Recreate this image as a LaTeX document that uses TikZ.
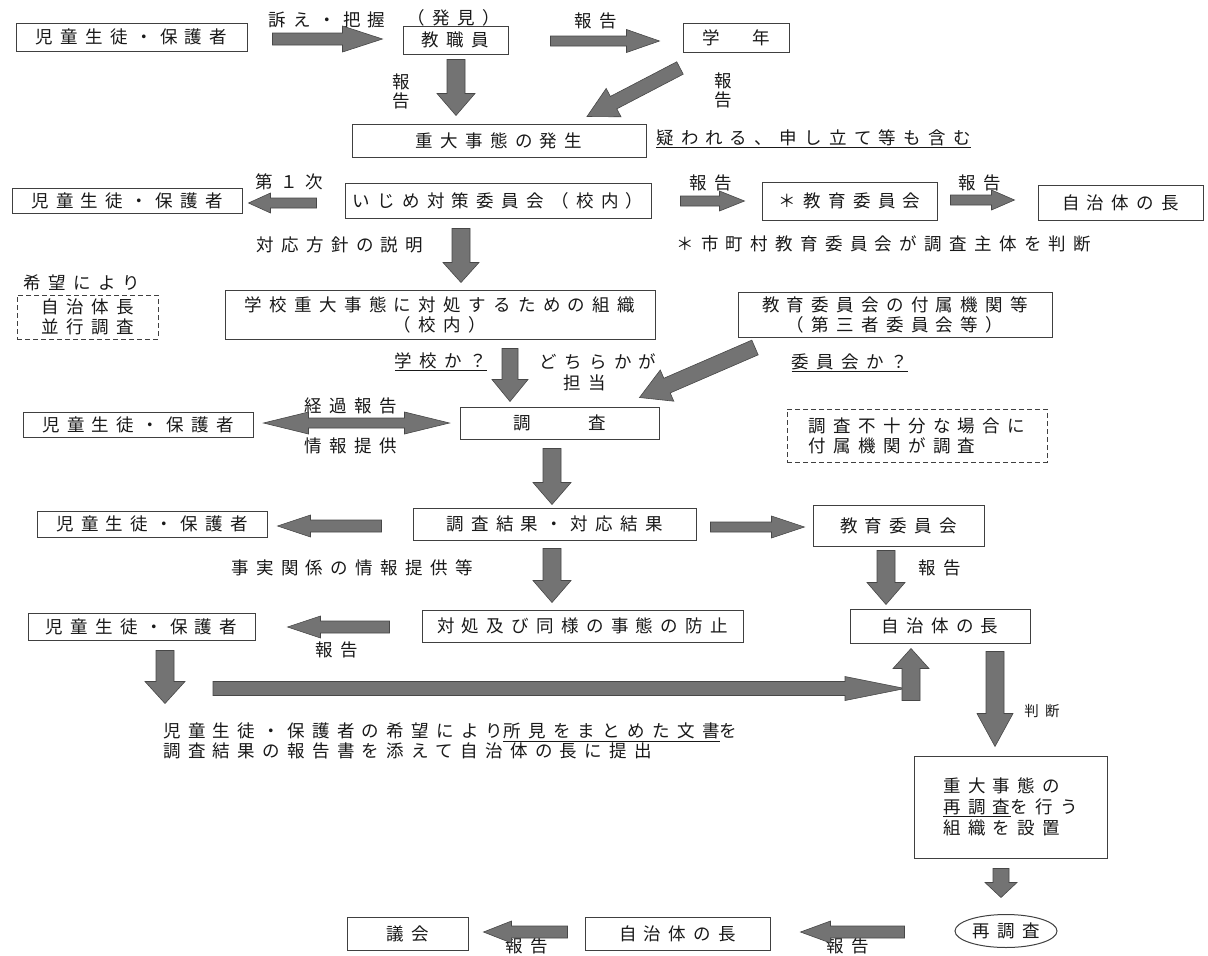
\documentclass[tikz,border=0pt]{standalone}
\usepackage{fontspec}
\setmainfont{Noto Sans CJK JP}[LetterSpace=42]
\usetikzlibrary{calc,shapes.geometric}
\newcommand{\blkarrow}[5]{%
  \coordinate (bS) at (#1);
  \coordinate (bE) at (#2);
  \coordinate (bC) at ($(bE)!#5!(bS)$);
  \filldraw[arw] ($(bS)!#3!90:(bE)$) -- ($(bC)!#3!90:(bE)$) -- ($(bC)!#4!90:(bE)$) -- (bE)
    -- ($(bC)!#4!-90:(bE)$) -- ($(bC)!#3!-90:(bE)$) -- ($(bS)!#3!-90:(bE)$) -- cycle;}
\newcommand{\dblarrow}[5]{%
  \coordinate (bS) at (#1);
  \coordinate (bE) at (#2);
  \coordinate (bC) at ($(bE)!#5!(bS)$);
  \coordinate (bD) at ($(bS)!#5!(bE)$);
  \filldraw[arw] (bS) -- ($(bD)!#4!90:(bE)$) -- ($(bD)!#3!90:(bE)$) -- ($(bC)!#3!90:(bE)$) -- ($(bC)!#4!90:(bE)$) -- (bE)
    -- ($(bC)!#4!-90:(bE)$) -- ($(bC)!#3!-90:(bE)$) -- ($(bD)!#3!-90:(bE)$) -- ($(bD)!#4!-90:(bE)$) -- cycle;}
\begin{document}
\begin{tikzpicture}[x=1pt,y=-1pt,
  every node/.style={font=\fontsize{17.5}{21}\selectfont, inner sep=0pt, text=black!90},
  bx/.style={draw=black!75, line width=1pt, align=center},
  dbx/.style={draw=black!75, line width=0.9pt, dash pattern=on 5pt off 3pt, align=center},
  arw/.style={fill=black!55, draw=black!72, line width=0.6pt},
  lbl/.style={align=center, font=\fontsize{17.5}{19}\selectfont}]
\useasboundingbox (0,0) rectangle (1208,956);
\fill[white] (0,0) rectangle (1208,956);
% row 1
\node[bx, minimum width=231, minimum height=28] (b1) at (131.5,37) {児童生徒・保護者};
\node[bx, minimum width=105, minimum height=28] (kyo) at (455.5,40) {教職員};
\node[bx, minimum width=106, minimum height=29] (gak) at (736,37.5) {学　年};
\node (uttae) at (327,20) {訴え・把握};
\node (hakken) at (454,18) {（発見）};
\node (hok1) at (596,21) {報告};
\node[lbl] (hok2) at (401,91) {報\\告};
\node[lbl] (hok3) at (723,90) {報\\告};
\node[bx, minimum width=294, minimum height=33] (jyu) at (499,140.5) {重大事態の発生};
\node[anchor=west] (utag) at (656,139) {\underline{疑われる、申し立て等も含む}};
% row 3
\node[bx, minimum width=230, minimum height=25] (b2) at (127,200.5) {児童生徒・保護者};
\node[bx, minimum width=306, minimum height=35] (ijime) at (498,200.5) {いじめ対策委員会（校内）};
\node[bx, minimum width=175, minimum height=38] (kyoi1) at (849.5,201) {＊教育委員会};
\node[bx, minimum width=165, minimum height=35] (jichi1) at (1120.5,202.5) {自治体の長};
\node (dai1) at (289,182) {第１次};
\node (hok4) at (711,183) {報告};
\node (hok5) at (980,183) {報告};
\node[anchor=west] (shicho) at (676,244) {＊市町村教育委員会が調査主体を判断};
\node (taiou) at (340,245) {対応方針の説明};
% row 4
\node[dbx, minimum width=141, minimum height=44, font=\fontsize{17.5}{20}\selectfont] (heiko) at (87.5,317) {自治体長\\並行調査};
\node (kibou) at (82,283) {希望により};
\node[bx, minimum width=430, minimum height=49, font=\fontsize{17.5}{20}\selectfont] (soshiki) at (440,314.5) {学校重大事態に対処するための組織\\（校内）};
\node[bx, minimum width=314, minimum height=45, font=\fontsize{17.5}{20}\selectfont] (fuzoku) at (895,314.5) {教育委員会の付属機関等\\（第三者委員会等）};
\node (gakko) at (441,362) {\underline{学校か？}};
\node (dochira) at (598,362) {どちらかが};
\node (tanto) at (585,383) {担当};
\node (iinkai) at (850,363) {\underline{委員会か？}};
% row 5
\node[bx, minimum width=230, minimum height=25] (b3) at (138,424.5) {児童生徒・保護者};
\node (keika) at (351,406) {経過報告};
\node (joho) at (351,446) {情報提供};
\node[bx, minimum width=199, minimum height=32] (chosa) at (559.5,423) {調　　査};
\node[dbx, minimum width=260, minimum height=53, align=left, font=\fontsize{17.5}{20}\selectfont] (fujubun) at (917,435.5) {調査不十分な場合に\\付属機関が調査};
% row 6
\node[bx, minimum width=283, minimum height=32] (kekka) at (554.5,524) {調査結果・対応結果};
\node[bx, minimum width=230, minimum height=26] (b4) at (152,524) {児童生徒・保護者};
\node[bx, minimum width=171, minimum height=41] (kyoi2) at (898.5,525.5) {教育委員会};
\node (jijitsu) at (352,568) {事実関係の情報提供等};
\node (hok6) at (940,568) {報告};
% row 7
\node[bx, minimum width=321, minimum height=32] (taisho) at (582.5,626) {対処及び同様の事態の防止};
\node[bx, minimum width=180, minimum height=34] (jichi2) at (940,626) {自治体の長};
\node[bx, minimum width=227, minimum height=27] (b5) at (141.5,626.5) {児童生徒・保護者};
\node (hok7) at (337,650) {報告};
\node[align=left, anchor=north west, font=\fontsize{17.5}{19.5}\selectfont] (shoken) at (163,723) {児童生徒・保護者の希望により\underline{所見をまとめた文書}を\\調査結果の報告書を添えて自治体の長に提出};
\node[font=\fontsize{14.5}{16}\selectfont] (handan) at (1042,711) {判断};
\node[bx, minimum width=193, minimum height=102, align=left] (saicho) at (1010.5,807) {重大事態の\\\underline{再調査}を行う\\組織を設置};
\node[ellipse, draw=black!75, line width=1pt, minimum width=102, minimum height=33] (saichosa) at (1006,931) {再調査};
\node[bx, minimum width=185, minimum height=33] (jichi3) at (677.5,933.5) {自治体の長};
\node[bx, minimum width=121, minimum height=33] (gikai) at (407.5,933.5) {議会};
\node (hok8) at (527,946) {報告};
\node (hok9) at (848,946) {報告};
% arrows
\blkarrow{$(b1.east)+(25,2)$}{$(kyo.west)+(-20,-1)$}{6pt}{13pt}{40pt}
\blkarrow{$(kyo.east)+(42,1)$}{$(gak.west)+(-23,3.5)$}{5pt}{11.5pt}{33pt}
\blkarrow{$(kyo.south)+(0.5,5)$}{$(kyo.south |- jyu.north)+(0.5,-8)$}{9pt}{19pt}{22pt}
\blkarrow{$(gak.south)+(-56,15.5)$}{$(jyu.north)+(88,-7)$}{7pt}{16pt}{30pt}
\blkarrow{$(ijime.west)+(-28,2.5)$}{$(b2.east)+(6,2.5)$}{5pt}{10pt}{22pt}
\blkarrow{$(ijime.east)+(29,0.5)$}{$(kyoi1.west)+(-17,0)$}{5pt}{10pt}{25pt}
\blkarrow{$(kyoi1.east)+(13,-1)$}{$(jichi1.west)+(-23,-2.5)$}{5pt}{10pt}{23pt}
\blkarrow{$(ijime.south)+(-37,10)$}{$(ijime.south |- soshiki.north)+(-37,-7)$}{9pt}{18pt}{20pt}
\blkarrow{$(soshiki.south)+(70,9)$}{$(chosa.north)+(-49.5,-5)$}{8pt}{18pt}{22pt}
\blkarrow{$(fuzoku.south)+(-140,10)$}{$(chosa.north)+(80,-9)$}{8pt}{17pt}{30pt}
\dblarrow{$(b3.east)+(10,-1.5)$}{$(chosa.west)+(-10,0)$}{5pt}{11pt}{45pt}
\blkarrow{$(chosa.south)+(-7.5,9)$}{$(kekka.north)+(-2.5,-3)$}{9pt}{19pt}{22pt}
\blkarrow{$(kekka.west)+(-31,2)$}{$(b4.east)+(10,2)$}{6pt}{11pt}{33pt}
\blkarrow{$(kekka.east)+(14,3)$}{$(kyoi2.west)+(-8,1.5)$}{5pt}{11pt}{33pt}
\blkarrow{$(kekka.south)+(-2.5,8)$}{$(taisho.north)+(-30.5,-7)$}{9pt}{19pt}{22pt}
\blkarrow{$(kyoi2.south)+(-12.5,4)$}{$(jichi2.north)+(-54,-4)$}{9pt}{19pt}{22pt}
\blkarrow{$(taisho.west)+(-32,1)$}{$(b5.east)+(32,0.5)$}{6pt}{11pt}{33pt}
\blkarrow{$(b5.south)+(23.5,10)$}{$(b5.south)+(23.5,63)$}{9pt}{20pt}{22pt}
\blkarrow{$(b5.south)+(71.5,48)$}{$(jichi2.south)+(-35,45)$}{7pt}{12pt}{60pt}
\blkarrow{$(jichi2.south)+(-29,57)$}{$(jichi2.south)+(-29,5)$}{9pt}{18pt}{20pt}
\blkarrow{$(jichi2.south)+(55,8)$}{$(saicho.north)+(-15.5,-9)$}{9pt}{18pt}{33pt}
\blkarrow{$(saicho.south)+(-9.5,10)$}{$(saichosa.north)+(-5,-16.5)$}{8pt}{16pt}{15pt}
\blkarrow{$(saichosa.west)+(-50,1)$}{$(jichi3.east)+(30,-1.5)$}{6pt}{11pt}{30pt}
\blkarrow{$(jichi3.west)+(-17,-1.5)$}{$(gikai.east)+(15,-1.5)$}{6pt}{11pt}{28pt}
\end{tikzpicture}
\end{document}
